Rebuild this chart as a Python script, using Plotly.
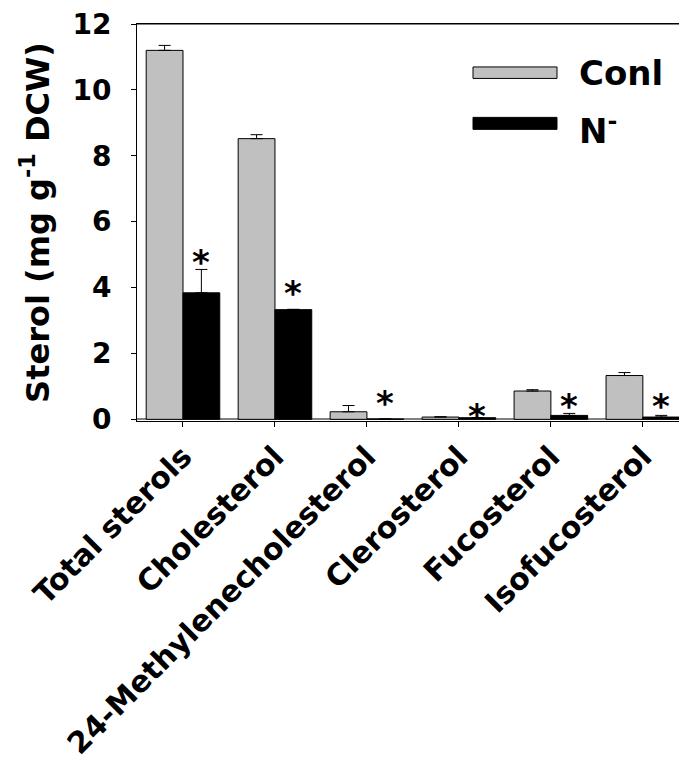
import plotly.graph_objects as go

categories = ["Total sterols", "Cholesterol", "24-Methylenecholesterol",
              "Clerosterol", "Fucosterol", "Isofucosterol"]
conl_values = [11.2, 8.52, 0.23, 0.07, 0.86, 1.33]
conl_errors = [0.15, 0.12, 0.19, 0.01, 0.04, 0.09]
nminus_values = [3.84, 3.33, 0.01, 0.05, 0.12, 0.07]
nminus_errors = [0.71, 0.01, 0.0, 0.0, 0.06, 0.05]
star_y = [5.06, 4.12, 0.76, 0.38, 0.67, 0.68]
y_ticks = [0, 2, 4, 6, 8, 10, 12]

FONT = "DejaVu Sans"

fig = go.Figure()
fig.add_trace(go.Bar(
    x=categories, y=conl_values, name="Conl",
    marker=dict(color="#c0c0c0", line=dict(color="#000000", width=1)),
    error_y=dict(type="data", symmetric=False, array=conl_errors,
                 arrayminus=[0] * len(conl_errors),
                 color="#000000", thickness=1, width=6),
    showlegend=False,
))
fig.add_trace(go.Bar(
    x=categories, y=nminus_values, name="N-",
    marker=dict(color="#000000", line=dict(color="#000000", width=1)),
    error_y=dict(type="data", symmetric=False, array=nminus_errors,
                 arrayminus=[0] * len(nminus_errors),
                 color="#000000", thickness=1, width=6),
    showlegend=False,
))

# significance asterisks above N- bars
for cat, sy in zip(categories, star_y):
    fig.add_annotation(x=cat, y=sy, xref="x", yref="y", text="<b>*</b>",
                       showarrow=False, xshift=18, yshift=-9,
                       font=dict(family=FONT, size=34, color="#000000"))

# manual legend (wide bar swatches); pixel positions in page coordinates
PLOT_TOP, PLOT_BOTTOM, PLOT_LEFT, PLOT_W = 24, 421.5, 137, 550


def py2paper(py):
    return (PLOT_BOTTOM - py) / (PLOT_BOTTOM - PLOT_TOP)


def px2paper(px):
    return (px - PLOT_LEFT) / PLOT_W


fig.add_shape(type="rect", xref="paper", yref="paper",
              x0=px2paper(473), x1=px2paper(557),
              y0=py2paper(78.5), y1=py2paper(67),
              fillcolor="#c0c0c0", line=dict(color="#000000", width=1))
fig.add_shape(type="rect", xref="paper", yref="paper",
              x0=px2paper(473), x1=px2paper(557),
              y0=py2paper(129.5), y1=py2paper(117.5),
              fillcolor="#000000", line=dict(color="#000000", width=1))
# top frame line
fig.add_shape(type="line", xref="paper", yref="paper",
              x0=0, x1=1, y0=1, y1=1, line=dict(color="#000000", width=1))
fig.add_annotation(x=px2paper(577), y=py2paper(73), xref="paper", yref="paper",
                   text="<b>Conl</b>", showarrow=False, xanchor="left", yanchor="middle",
                   font=dict(family=FONT, size=34, color="#000000"))
fig.add_annotation(x=px2paper(577), y=py2paper(129), xref="paper", yref="paper",
                   text="<b>N<sup>-</sup></b>", showarrow=False, xanchor="left", yanchor="middle",
                   font=dict(family=FONT, size=34, color="#000000"))

# page body has an 8px default margin: compensate
fig.update_layout(
    width=679, height=758,
    margin=dict(l=129, r=0, t=16, b=344.5, autoexpand=False),
    paper_bgcolor="#ffffff", plot_bgcolor="#ffffff",
    barmode="group", bargap=0.2, bargroupgap=0,
    font=dict(family=FONT, color="#000000"),
)
fig.update_xaxes(
    range=[-0.5, 5.48], showline=True, linecolor="#000000", linewidth=1,
    mirror=True, ticks="outside", ticklen=5, tickcolor="#000000",
    tickangle=-45, tickfont=dict(family=FONT, size=30, color="#000000"),
    tickprefix="<b>", ticksuffix="</b>", showgrid=False, automargin=False,
    ticklabeloverflow="allow",
)
fig.update_yaxes(
    range=[-0.05, 12], tickvals=y_ticks, ticktext=[f"<b>{v}</b>" for v in y_ticks],
    showline=True, linecolor="#000000", linewidth=1,
    ticks="outside", ticklen=5, tickcolor="#000000", ticklabelstandoff=14,
    tickfont=dict(family=FONT, size=28, color="#000000"),
    showgrid=False, zeroline=True, zerolinecolor="#808080", zerolinewidth=2,
    automargin=False, ticklabeloverflow="allow",
    title=dict(text="<b>Sterol (mg g<sup>-1</sup> DCW)</b>",
               font=dict(family=FONT, size=32, color="#000000"), standoff=13),
)

fig.write_html("out.html")
